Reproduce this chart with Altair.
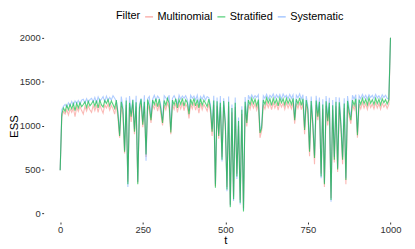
import altair as alt
import pandas as pd

t_values = list(range(0, 1001, 5))

filters = ["Multinomial", "Stratified", "Systematic"]
colors = ["#F8766D", "#00BA38", "#619CFF"]
draw_order = ["Multinomial", "Systematic", "Stratified"]
line_opacity = {"Multinomial": 0.5, "Systematic": 0.5, "Stratified": 0.65}

multinomial = [
    490, 1100, 1160, 1130, 1180, 1120, 1190, 1150, 1200, 1100, 1210, 1160, 1215, 1170, 1130, 1220, 1165, 1225, 1180, 1150,
    1230, 1170, 1235, 1150, 1240, 1185, 1140, 1235, 1200, 1245, 1175, 1230, 1190, 1130, 1240, 1080, 860, 1220, 1120, 680,
    1235, 360, 1210, 1040, 1240, 900, 1215, 350, 1150, 1250, 980, 1220, 640, 1245, 1170, 1030, 1240, 1190, 1255, 1165,
    1250, 1130, 1000, 1235, 1180, 1260, 1200, 900, 1240, 1185, 1255, 1150, 1245, 1190, 1260, 1170, 1245, 1210, 1080, 1250,
    1190, 1260, 1175, 1245, 1140, 1255, 1180, 1240, 1205, 1165, 1250, 1150, 880, 1235, 310, 1225, 850, 1210, 640, 1230,
    980, 300, 1220, 100, 1150, 190, 1210, 450, 1000, 150, 1130, 60, 1220, 990, 1240, 1185, 1260, 1200, 1250, 1175,
    1245, 860, 940, 1240, 1190, 1265, 1205, 1255, 1180, 1260, 1200, 1250, 1175, 1265, 1210, 1255, 1185, 1260, 1200, 1250,
    1190, 1260, 1020, 1250, 1195, 1265, 1180, 1255, 900, 1240, 1130, 650, 1230, 970, 560, 1235, 1060, 1220, 450, 1190,
    300, 1225, 1000, 1210, 170, 1180, 580, 1220, 470, 1215, 960, 560, 1200, 330, 1230, 1100, 1020, 1240, 1180, 1255,
    860, 1245, 1190, 1260, 1200, 1250, 1185, 1265, 1205, 1245, 1190, 1260, 1200, 1250, 1185, 1255, 1210, 1245, 1195, 1240,
    2000,
]

stratified = [
    490, 1130, 1200, 1160, 1230, 1180, 1240, 1190, 1250, 1170, 1255, 1200, 1260, 1215, 1240, 1270, 1205, 1275, 1225, 1250,
    1280, 1220, 1285, 1200, 1290, 1235, 1210, 1285, 1250, 1295, 1225, 1280, 1240, 1195, 1290, 1130, 880, 1270, 1180, 700,
    1285, 330, 1260, 1100, 1290, 930, 1265, 330, 1200, 1300, 1010, 1270, 670, 1295, 1220, 1060, 1290, 1240, 1305, 1215,
    1300, 1180, 1030, 1285, 1230, 1310, 1250, 920, 1290, 1235, 1305, 1200, 1295, 1240, 1310, 1220, 1295, 1260, 1130, 1300,
    1240, 1310, 1225, 1295, 1200, 1305, 1230, 1290, 1255, 1215, 1300, 1200, 930, 1285, 290, 1275, 880, 1260, 610, 1280,
    1020, 270, 1270, 70, 1200, 160, 1260, 420, 1050, 120, 1180, 20, 1270, 1030, 1290, 1235, 1310, 1250, 1300, 1225,
    1295, 915, 970, 1290, 1240, 1315, 1255, 1305, 1230, 1310, 1250, 1300, 1225, 1315, 1260, 1305, 1235, 1310, 1250, 1300,
    1240, 1310, 1060, 1300, 1245, 1315, 1230, 1305, 950, 1290, 1180, 700, 1280, 1010, 630, 1285, 1100, 1270, 420, 1240,
    330, 1275, 1050, 1260, 150, 1230, 610, 1270, 500, 1265, 1000, 610, 1250, 380, 1280, 1150, 1060, 1290, 1230, 1305,
    890, 1295, 1240, 1310, 1250, 1300, 1235, 1315, 1255, 1295, 1240, 1310, 1250, 1300, 1235, 1305, 1260, 1295, 1245, 1290,
    2000,
]

systematic = [
    490, 1180, 1220, 1240, 1210, 1260, 1225, 1275, 1230, 1280, 1250, 1285, 1240, 1290, 1300, 1255, 1305, 1265, 1295, 1310,
    1270, 1320, 1260, 1325, 1280, 1300, 1330, 1270, 1335, 1285, 1320, 1290, 1340, 1310, 1280, 1160, 900, 1330, 1210, 720,
    1320, 300, 1335, 1130, 1300, 960, 1340, 360, 1240, 1310, 1040, 1345, 600, 1305, 1330, 1090, 1300, 1345, 1290, 1335,
    1310, 1220, 1060, 1340, 1315, 1295, 1345, 950, 1310, 1340, 1300, 1240, 1345, 1300, 1335, 1310, 1340, 1295, 1170, 1345,
    1310, 1335, 1290, 1345, 1240, 1330, 1300, 1345, 1290, 1330, 1315, 1240, 960, 1340, 330, 1320, 910, 1335, 590, 1310,
    1050, 250, 1330, 90, 1240, 140, 1320, 390, 1090, 100, 1220, 40, 1325, 1060, 1345, 1300, 1350, 1310, 1340, 1320,
    1350, 940, 1000, 1340, 1310, 1355, 1300, 1345, 1320, 1360, 1305, 1350, 1315, 1355, 1300, 1360, 1320, 1345, 1305, 1355,
    1310, 1350, 1090, 1345, 1315, 1360, 1300, 1350, 980, 1335, 1220, 730, 1330, 1040, 660, 1340, 1140, 1320, 400, 1300,
    350, 1335, 1090, 1315, 130, 1290, 640, 1325, 520, 1320, 1040, 640, 1310, 400, 1335, 1190, 1100, 1345, 1300, 1350,
    920, 1340, 1305, 1355, 1310, 1345, 1300, 1350, 1320, 1345, 1305, 1355, 1315, 1340, 1300, 1350, 1320, 1345, 1310, 1300,
    2000,
]

x_ticks = [0, 250, 500, 750, 1000]
y_ticks = [0, 500, 1000, 1500, 2000]

rows = []
for name, vals in zip(filters, [multinomial, stratified, systematic]):
    for t, v in zip(t_values, vals):
        rows.append({"t": t, "ESS": v, "Filter": name})
df = pd.DataFrame(rows)

FONT = "Liberation Sans"

x_enc = alt.X(
    "t:Q",
    scale=alt.Scale(domain=[-50, 1050], nice=False, zero=False),
    axis=alt.Axis(
        values=x_ticks, format="d", title="t", grid=False, domain=False,
        tickSize=2, tickColor="#333333", labelPadding=1,
        labelFontSize=9.5, labelColor="#333333", labelFont=FONT,
        titleFont=FONT, titleFontSize=11.5, titleFontWeight="normal",
        titleColor="#000000", titleY=19, titleBaseline="middle",
    ),
)
y_enc = alt.Y(
    "ESS:Q",
    scale=alt.Scale(domain=[-100, 2100], nice=False, zero=False),
    axis=alt.Axis(
        values=y_ticks, format="d", title="ESS", grid=False, domain=False,
        tickSize=2, tickColor="#333333", labelPadding=1.5,
        labelFontSize=9.5, labelColor="#333333", labelFont=FONT,
        titleFont=FONT, titleFontSize=11.5, titleFontWeight="normal",
        titleColor="#000000", titleX=-29, titleY=98,
        titleAngle=270, titleAlign="center", titleBaseline="middle",
    ),
)
c_enc = alt.Color(
    "Filter:N",
    scale=alt.Scale(domain=filters, range=colors),
    legend=alt.Legend(
        orient="none", direction="horizontal", legendX=73, legendY=-18,
        titleOrient="left", title="Filter", titleFont=FONT,
        titleFontSize=11, titleFontWeight="normal", titleColor="#000000",
        titlePadding=3, labelFont=FONT, labelFontSize=11,
        labelColor="#000000", symbolType="stroke", symbolSize=64,
        symbolStrokeWidth=1.5, symbolOpacity=0.55, labelOffset=3,
        columnPadding=1,
    ),
)

base = alt.Chart(df)
layers = [
    base.transform_filter(alt.datum.Filter == name)
    .mark_line(strokeWidth=1.1, opacity=line_opacity[name])
    .encode(x=x_enc, y=y_enc, color=c_enc)
    for name in draw_order
]

chart = (
    alt.layer(*layers)
    .properties(
        width=367, height=195,
        padding={"left": 36, "top": 20, "right": 0, "bottom": 23},
        autosize="none",
    )
    .configure_view(stroke=None)
)

chart.save("out.html", embed_options={"renderer": "svg", "actions": False})
